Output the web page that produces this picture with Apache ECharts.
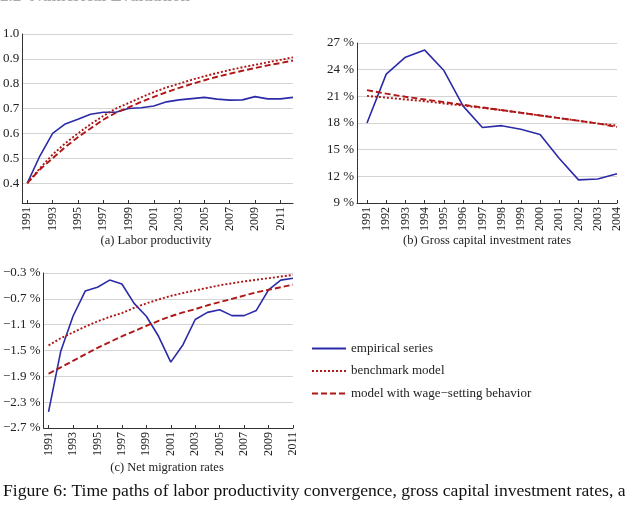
<!DOCTYPE html>
<html>
<head>
<meta charset="utf-8">
<script src="https://cdn.jsdelivr.net/npm/echarts@6/dist/echarts.min.js"></script>
<style>
  html, body { margin: 0; padding: 0; background: #fff; }
  #main { width: 625px; height: 505px; }
</style>
</head>
<body>
<div id="main"></div>
<script>
// (a) labor productivity, 1991-2012
var yearsA = [1991, 1992, 1993, 1994, 1995, 1996, 1997, 1998, 1999, 2000, 2001,
  2002, 2003, 2004, 2005, 2006, 2007, 2008, 2009, 2010, 2011, 2012];
var empA = [0.40, 0.51, 0.60, 0.638, 0.657, 0.677, 0.685, 0.685, 0.70, 0.703, 0.71,
  0.727, 0.735, 0.74, 0.745, 0.738, 0.734, 0.735, 0.748, 0.739, 0.739, 0.745];
var benchA = [0.40, 0.46, 0.515, 0.56, 0.60, 0.637, 0.67, 0.70, 0.722, 0.745, 0.766,
  0.785, 0.80, 0.816, 0.83, 0.843, 0.855, 0.866, 0.876, 0.886, 0.896, 0.906];
var wageA = [0.40, 0.455, 0.50, 0.545, 0.585, 0.62, 0.655, 0.683, 0.705, 0.727, 0.747,
  0.766, 0.783, 0.799, 0.814, 0.828, 0.84, 0.852, 0.863, 0.874, 0.883, 0.893];
var ticksA = [1991, 1993, 1995, 1997, 1999, 2001, 2003, 2005, 2007, 2009, 2011];
var yTicksA = [0.4, 0.5, 0.6, 0.7, 0.8, 0.9, 1.0];

// (b) gross capital investment rates (%), 1991-2004
var yearsB = [1991, 1992, 1993, 1994, 1995, 1996, 1997, 1998, 1999, 2000, 2001, 2002, 2003, 2004];
var empB = [18.0, 23.5, 25.4, 26.2, 23.9, 19.9, 17.5, 17.7, 17.3, 16.7, 14.0, 11.6, 11.7, 12.3];
var benchB = [21.05, 20.85, 20.65, 20.45, 20.2, 19.95, 19.7, 19.45, 19.15, 18.85, 18.55, 18.25, 17.95, 17.7];
var wageB = [21.7, 21.3, 20.95, 20.65, 20.35, 20.05, 19.75, 19.45, 19.15, 18.85, 18.55, 18.25, 17.95, 17.55];

// (c) net migration rates (%), 1991-2011
var yearsC = [1991, 1992, 1993, 1994, 1995, 1996, 1997, 1998, 1999, 2000, 2001,
  2002, 2003, 2004, 2005, 2006, 2007, 2008, 2009, 2010, 2011];
var empC = [-2.45, -1.51, -0.97, -0.58, -0.52, -0.41, -0.47, -0.77, -0.97, -1.28, -1.68,
  -1.41, -1.02, -0.91, -0.87, -0.96, -0.96, -0.88, -0.56, -0.41, -0.38];
var benchC = [-1.42, -1.31, -1.22, -1.13, -1.05, -0.98, -0.92, -0.84, -0.77, -0.71, -0.655,
  -0.61, -0.57, -0.53, -0.49, -0.46, -0.43, -0.405, -0.38, -0.355, -0.33];
var wageC = [-1.86, -1.76, -1.66, -1.56, -1.46, -1.37, -1.28, -1.2, -1.12, -1.04, -0.97,
  -0.91, -0.86, -0.8, -0.75, -0.7, -0.65, -0.6, -0.56, -0.52, -0.48];
var ticksC = ticksA;
var yTicksC = [-2.7, -2.3, -1.9, -1.5, -1.1, -0.7, -0.3];

var names = ['empirical series', 'benchmark model', 'model with wage\u2212setting behavior'];

var SERIF = "'Liberation Serif', 'Times New Roman', serif";
var BLUE = '#2b2ba8';
var RED = '#b01616';
var TXT = '#222';

function pts(xs, vs) {
  return vs.map(function (v, i) { return [xs[i], v]; });
}

function xAxisFor(idx, min, max, ticks) {
  return {
    type: 'value', gridIndex: idx, min: min, max: max,
    axisLine: { lineStyle: { color: '#333', width: 1 } },
    axisTick: { inside: true, length: 3, customValues: ticks, lineStyle: { color: '#333' } },
    axisLabel: {
      customValues: ticks, rotate: 90, margin: 4,
      fontFamily: SERIF, fontSize: 12, color: TXT,
      formatter: function (v) { return String(v); }
    },
    splitLine: { show: false }
  };
}

function yAxisFor(idx, min, max, ticks, fmt) {
  return {
    type: 'value', gridIndex: idx, min: min, max: max,
    axisLine: { show: true, lineStyle: { color: '#333', width: 1 } },
    axisTick: { show: false, customValues: ticks },
    axisLabel: { customValues: ticks, margin: 3, fontFamily: SERIF, fontSize: 13, color: TXT, formatter: fmt },
    splitLine: { show: true, lineStyle: { color: '#d4d4d4', width: 1 } }
  };
}

function trio(idx, xs, emp, bench, wage) {
  return [
    { name: names[0], type: 'line', xAxisIndex: idx, yAxisIndex: idx, data: pts(xs, emp),
      symbol: 'none', lineStyle: { color: BLUE, width: 1.6 }, itemStyle: { color: BLUE } },
    { name: names[1], type: 'line', xAxisIndex: idx, yAxisIndex: idx, data: pts(xs, bench),
      symbol: 'none', lineStyle: { color: RED, width: 1.9, type: [2, 2] }, itemStyle: { color: RED } },
    { name: names[2], type: 'line', xAxisIndex: idx, yAxisIndex: idx, data: pts(xs, wage),
      symbol: 'none', lineStyle: { color: RED, width: 1.9, type: [6, 3] }, itemStyle: { color: RED } }
  ];
}

function pct(v) {
  return String(Math.round(v)) + ' %';
}
function pctC(v) {
  return (v < 0 ? '\u2212' : '') + Math.abs(v).toFixed(1) + ' %';
}

var chart = echarts.init(document.getElementById('main'), null, { renderer: 'canvas' });
chart.setOption({
  animation: false,
  backgroundColor: '#fff',
  grid: [
    { left: 20, top: 34, width: 273, height: 169 },
    { left: 357, top: 43, width: 260, height: 160 },
    { left: 42, top: 273, width: 251, height: 155 }
  ],
  xAxis: [
    xAxisFor(0, 1990.6, 2012, ticksA),
    xAxisFor(1, 1990.48, 2004, yearsB),
    xAxisFor(2, 1990.6, 2011, ticksC)
  ],
  yAxis: [
    yAxisFor(0, 0.32, 1.0, yTicksA, function (v) { return v.toFixed(1); }),
    yAxisFor(1, 9, 27, null, pct),
    yAxisFor(2, -2.7, -0.3, yTicksC, pctC)
  ],
  legend: {
    orient: 'vertical', left: 311, top: 342, padding: 0,
    itemWidth: 34, itemHeight: 12, itemGap: 9.5,
    selectedMode: false,
    itemStyle: { opacity: 0 },
    textStyle: { fontFamily: SERIF, fontSize: 13, color: TXT },
    data: names
  },
  graphic: [
    { type: 'text', x: 0, y: -12, style: { text: '2.2  Numerical Evaluation', font: 'bold 17px ' + SERIF, fill: '#aaa' } },
    { type: 'text', x: 156, y: 241, style: { text: '(a) Labor productivity', font: '12.5px ' + SERIF, fill: TXT, align: 'center', verticalAlign: 'middle' } },
    { type: 'text', x: 487, y: 241, style: { text: '(b) Gross capital investment rates', font: '12.5px ' + SERIF, fill: TXT, align: 'center', verticalAlign: 'middle' } },
    { type: 'text', x: 167, y: 468, style: { text: '(c) Net migration rates', font: '12.5px ' + SERIF, fill: TXT, align: 'center', verticalAlign: 'middle' } },
    { type: 'text', x: 3, y: 491, style: { text: 'Figure 6: Time paths of labor productivity convergence, gross capital investment rates, and net migration rates', font: '17.6px ' + SERIF, fill: '#111', verticalAlign: 'middle' } }
  ],
  series: [].concat(
    trio(0, yearsA, empA, benchA, wageA),
    trio(1, yearsB, empB, benchB, wageB),
    trio(2, yearsC, empC, benchC, wageC)
  )
});
</script>
</body>
</html>
